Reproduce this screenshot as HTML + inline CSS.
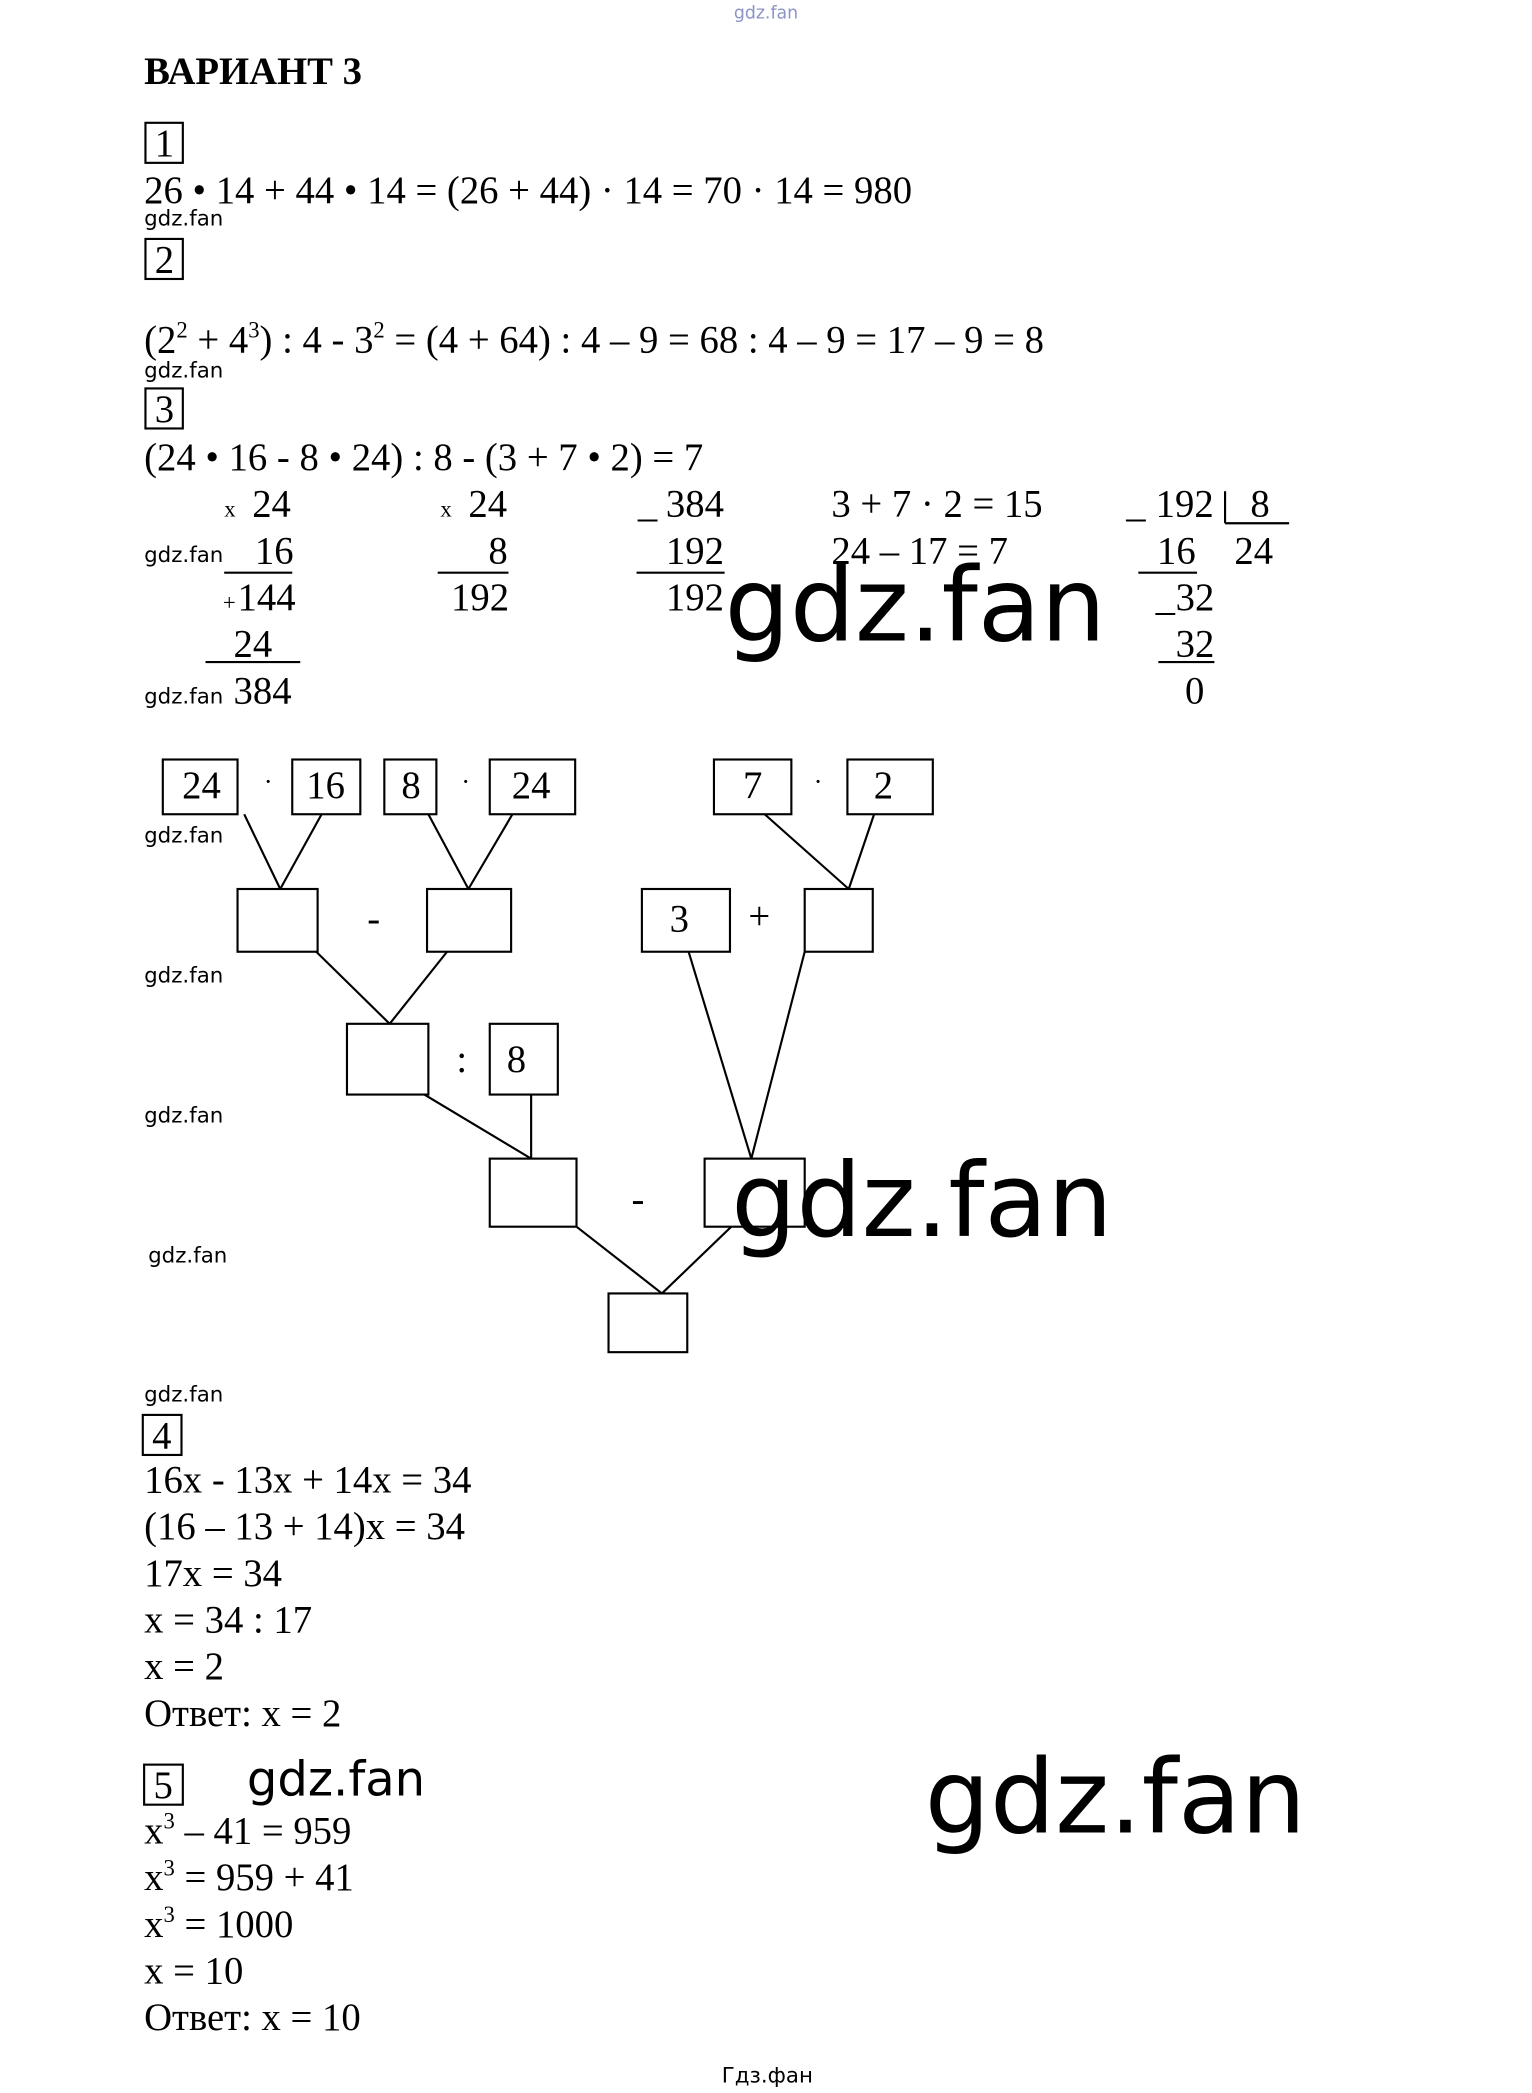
<!DOCTYPE html>
<html><head><meta charset="utf-8"><style>
html,body{margin:0;padding:0;background:#fff}
svg{display:block}
.t{font-family:"Liberation Serif",serif;font-size:29px;fill:#000}
.s{font-family:"DejaVu Sans","Liberation Sans",sans-serif;font-size:16px;fill:#000}
.b{font-family:"DejaVu Sans","Liberation Sans",sans-serif;fill:#000}
</style></head><body>
<svg width="1532" height="2093" viewBox="0 0 1148 1568" preserveAspectRatio="none" xmlns="http://www.w3.org/2000/svg">
<g stroke="#000" stroke-width="1.6" fill="none">
<rect x="109" y="92" width="28" height="30"/>
<rect x="109" y="179" width="28" height="30"/>
<rect x="109" y="291" width="28" height="30"/>
<rect x="107" y="1060" width="29" height="30"/>
<rect x="108" y="1322" width="29" height="30"/>
<line x1="168" y1="429" x2="219" y2="429"/>
<line x1="154" y1="496" x2="225" y2="496"/>
<line x1="328" y1="429" x2="381" y2="429"/>
<line x1="477" y1="429" x2="543" y2="429"/>
<line x1="918" y1="368" x2="918" y2="392"/>
<line x1="918" y1="392" x2="966" y2="392"/>
<line x1="853" y1="429" x2="897" y2="429"/>
<line x1="868" y1="496" x2="910" y2="496"/>
<rect x="122" y="569" width="56" height="41"/>
<rect x="219" y="569" width="51" height="41"/>
<rect x="288" y="569" width="39" height="41"/>
<rect x="367" y="569" width="64" height="41"/>
<rect x="535" y="569" width="58" height="41"/>
<rect x="635" y="569" width="64" height="41"/>
<rect x="178" y="666" width="60" height="47"/>
<rect x="320" y="666" width="63" height="47"/>
<rect x="481" y="666" width="66" height="47"/>
<rect x="603" y="666" width="51" height="47"/>
<rect x="260" y="767" width="61" height="53"/>
<rect x="367" y="767" width="51" height="53"/>
<rect x="367" y="868" width="65" height="51"/>
<rect x="528" y="868" width="75" height="51"/>
<rect x="456" y="969" width="59" height="44"/>
<line x1="183" y1="610" x2="210" y2="666"/>
<line x1="241" y1="610" x2="210" y2="666"/>
<line x1="321" y1="610" x2="351" y2="666"/>
<line x1="384" y1="610" x2="351" y2="666"/>
<line x1="573" y1="610" x2="636" y2="666"/>
<line x1="655" y1="610" x2="636" y2="666"/>
<line x1="237" y1="713" x2="292" y2="767"/>
<line x1="335" y1="713" x2="292" y2="767"/>
<line x1="516" y1="713" x2="563" y2="868"/>
<line x1="603" y1="713" x2="563" y2="868"/>
<line x1="318" y1="820" x2="398" y2="868"/>
<line x1="398" y1="820" x2="398" y2="868"/>
<line x1="432" y1="919" x2="496" y2="969"/>
<line x1="548" y1="919" x2="496" y2="969"/>
</g>
<text x="574" y="14" text-anchor="middle" font-family="DejaVu Sans,sans-serif" font-size="13" fill="#8a94c8">gdz.fan</text>
<text x="108" y="63" class="t" font-weight="bold" font-size="27">ВАРИАНТ 3</text>
<text x="116" y="117" class="t">1</text>
<text x="116" y="204" class="t">2</text>
<text x="116" y="316" class="t">3</text>
<text x="114" y="1085" class="t">4</text>
<text x="115" y="1347" class="t">5</text>
<text x="108" y="152" class="t">26 • 14 + 44 • 14 = (26 + 44) · 14 = 70 · 14 = 980</text>
<text x="108" y="169" class="s">gdz.fan</text>
<text x="108" y="264" class="t">(2<tspan font-size="17" dy="-11">2</tspan><tspan dy="11"> + 4</tspan><tspan font-size="17" dy="-11">3</tspan><tspan dy="11">) : 4 - 3</tspan><tspan font-size="17" dy="-11">2</tspan><tspan dy="11"> = (4 + 64) : 4 – 9 = 68 : 4 – 9 = 17 – 9 = 8</tspan></text>
<text x="108" y="283" class="s">gdz.fan</text>
<text x="108" y="352" class="t">(24 • 16 - 8 • 24) : 8 - (3 + 7 • 2) = 7</text>
<g class="t">
<text x="168" y="387" font-size="17">x</text><text x="189" y="387">24</text>
<text x="108" y="421" class="s">gdz.fan</text><text x="191" y="422">16</text>
<text x="167" y="457" font-size="17">+</text><text x="178" y="457">144</text>
<text x="175" y="492">24</text>
<text x="108" y="527" class="s">gdz.fan</text><text x="175" y="527">384</text>
<text x="330" y="387" font-size="17">x</text><text x="351" y="387">24</text>
<text x="366" y="422">8</text>
<text x="338" y="457">192</text>
<text x="478" y="387">_</text><text x="499" y="387">384</text>
<text x="499" y="422">192</text>
<text x="499" y="457">192</text>
<text x="623" y="387">3 + 7 · 2 = 15</text>
<text x="623" y="422">24 – 17 = 7</text>
<text x="844" y="387">_</text><text x="866" y="387">192</text><text x="937" y="387">8</text>
<text x="867" y="422">16</text><text x="925" y="422">24</text>
<text x="866" y="457">_</text><text x="881" y="457">32</text>
<text x="881" y="492">32</text>
<text x="888" y="527">0</text>
</g>
<text x="543" y="480" class="b" font-size="77">gdz.fan</text>
<g class="t" text-anchor="middle">
<text x="151" y="598">24</text><text x="244" y="598">16</text><text x="308" y="598">8</text><text x="398" y="598">24</text>
<text x="564" y="598">7</text><text x="662" y="598">2</text>
<text x="201" y="592" font-size="20">·</text><text x="349" y="592" font-size="20">·</text><text x="613" y="592" font-size="20">·</text>
<text x="280" y="698">-</text><text x="509" y="698">3</text><text x="569" y="696">+</text>
<text x="346" y="803">:</text><text x="387" y="803">8</text>
<text x="478" y="908">-</text>
</g>
<text x="108" y="631" class="s">gdz.fan</text>
<text x="108" y="736" class="s">gdz.fan</text>
<text x="108" y="841" class="s">gdz.fan</text>
<text x="111" y="946" class="s">gdz.fan</text>
<text x="108" y="1050" class="s">gdz.fan</text>
<text x="548" y="926" class="b" font-size="77">gdz.fan</text>
<g class="t">
<text x="108" y="1118">16x - 13x + 14x = 34</text>
<text x="108" y="1153">(16 – 13 + 14)x = 34</text>
<text x="108" y="1188">17x = 34</text>
<text x="108" y="1223">x = 34 : 17</text>
<text x="108" y="1258">x = 2</text>
<text x="108" y="1293">Ответ: x = 2</text>
<text x="108" y="1381">x<tspan font-size="17" dy="-11">3</tspan><tspan dy="11"> – 41 = 959</tspan></text>
<text x="108" y="1416">x<tspan font-size="17" dy="-11">3</tspan><tspan dy="11"> = 959 + 41</tspan></text>
<text x="108" y="1451">x<tspan font-size="17" dy="-11">3</tspan><tspan dy="11"> = 1000</tspan></text>
<text x="108" y="1486">x = 10</text>
<text x="108" y="1521">Ответ: x = 10</text>
</g>
<text x="185" y="1345" class="b" font-size="36">gdz.fan</text>
<text x="693" y="1373" class="b" font-size="77">gdz.fan</text>
<text x="575" y="1560" text-anchor="middle" class="s" font-size="17">Гдз.фан</text>
</svg>
</body></html>
